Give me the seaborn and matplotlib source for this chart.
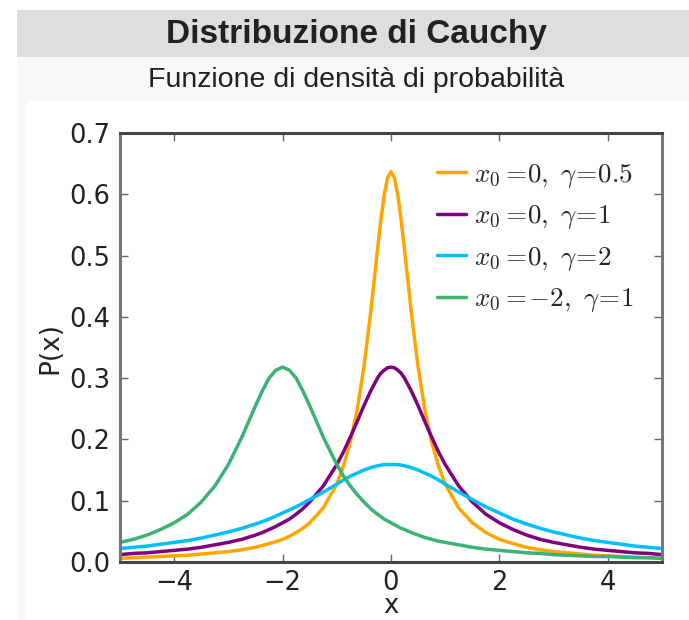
import pandas as pd
import seaborn as sns
from matplotlib import pyplot as plt
from matplotlib.patches import Rectangle

x_values = [
    -5, -4.75, -4.5, -4.25, -4, -3.75, -3.5, -3.25, -3, -2.75, -2.5,
    -2.375, -2.25, -2.125, -2, -1.875, -1.75, -1.625, -1.5, -1.25, -1,
    -0.875, -0.75, -0.625, -0.5, -0.375, -0.25, -0.1875, -0.125, -0.0625, 0,
    0.0625, 0.125, 0.1875, 0.25, 0.375, 0.5, 0.625, 0.75, 0.875, 1,
    1.25, 1.5, 1.75, 2, 2.25, 2.5, 2.75, 3, 3.25, 3.5, 3.75, 4, 4.25, 4.5, 4.75, 5
]
# x0 = 0, gamma = 0.5
p_orange = [
    0.006, 0.007, 0.008, 0.009, 0.010, 0.011, 0.013, 0.015, 0.017, 0.020, 0.024,
    0.027, 0.030, 0.033, 0.037, 0.042, 0.048, 0.055, 0.064, 0.088, 0.127,
    0.157, 0.196, 0.248, 0.318, 0.407, 0.509, 0.558, 0.599, 0.627, 0.637,
    0.627, 0.599, 0.558, 0.509, 0.407, 0.318, 0.248, 0.196, 0.157, 0.127,
    0.088, 0.064, 0.048, 0.037, 0.030, 0.024, 0.020, 0.017, 0.015, 0.013, 0.011, 0.010, 0.009, 0.008, 0.007, 0.006
]
# x0 = 0, gamma = 1
p_purple = [
    0.012, 0.014, 0.015, 0.017, 0.019, 0.021, 0.024, 0.028, 0.032, 0.037, 0.044,
    0.048, 0.053, 0.058, 0.064, 0.070, 0.078, 0.087, 0.098, 0.124, 0.159,
    0.180, 0.204, 0.229, 0.255, 0.279, 0.300, 0.308, 0.313, 0.317, 0.318,
    0.317, 0.313, 0.308, 0.300, 0.279, 0.255, 0.229, 0.204, 0.180, 0.159,
    0.124, 0.098, 0.078, 0.064, 0.053, 0.044, 0.037, 0.032, 0.028, 0.024, 0.021, 0.019, 0.017, 0.015, 0.014, 0.012
]
# x0 = 0, gamma = 2
p_cyan = [
    0.022, 0.024, 0.026, 0.029, 0.032, 0.035, 0.039, 0.044, 0.049, 0.055, 0.062,
    0.066, 0.070, 0.075, 0.080, 0.085, 0.090, 0.096, 0.102, 0.114, 0.127,
    0.134, 0.140, 0.145, 0.150, 0.154, 0.157, 0.158, 0.159, 0.159, 0.159,
    0.159, 0.159, 0.158, 0.157, 0.154, 0.150, 0.145, 0.140, 0.134, 0.127,
    0.114, 0.102, 0.090, 0.080, 0.070, 0.062, 0.055, 0.049, 0.044, 0.039, 0.035, 0.032, 0.029, 0.026, 0.024, 0.022
]
# x0 = -2, gamma = 1
p_green = [
    0.032, 0.037, 0.044, 0.053, 0.064, 0.078, 0.098, 0.124, 0.159, 0.204, 0.255,
    0.279, 0.300, 0.313, 0.318, 0.313, 0.300, 0.279, 0.255, 0.204, 0.159,
    0.140, 0.124, 0.110, 0.098, 0.087, 0.078, 0.074, 0.070, 0.067, 0.064,
    0.061, 0.058, 0.055, 0.053, 0.048, 0.044, 0.040, 0.037, 0.034, 0.032,
    0.028, 0.024, 0.021, 0.019, 0.017, 0.015, 0.014, 0.012, 0.011, 0.010, 0.009, 0.009, 0.008, 0.007, 0.007, 0.006
]

labels = [
    r'$x_0=\!0,\ \gamma\!=\!0.5$',
    r'$x_0=\!0,\ \gamma\!=\!1$',
    r'$x_0=\!0,\ \gamma\!=\!2$',
    r'$x_0=\!\!-\!2,\ \gamma\!=\!1$',
]
colors = ['#ffa500', '#800080', '#00bfff', '#3cb371']

wide = pd.DataFrame(
    dict(zip(labels, [p_orange, p_purple, p_cyan, p_green])),
    index = pd.Index(x_values, name = 'x')
)
df = wide.reset_index().melt(id_vars = 'x', var_name = 'curve', value_name = 'P')

sns.set_theme(style = 'ticks')
plt.rcParams['font.family'] = ['DejaVu Sans']
plt.rcParams['mathtext.fontset'] = 'cm'

fig = plt.figure(figsize = (6.89, 6.20), dpi = 100)
fig.patch.set_facecolor('white')

# infobox header bands
fig.patches.append(Rectangle((17 / 689, 1 - 57 / 620), 1, 47 / 620, transform = fig.transFigure,
                             facecolor = '#dedede', edgecolor = 'none', zorder = 0))
fig.patches.append(Rectangle((17 / 689, 1 - 101 / 620), 1, 44 / 620, transform = fig.transFigure,
                             facecolor = '#f8f8f8', edgecolor = 'none', zorder = 0))
fig.patches.append(Rectangle((17 / 689, 0), 9 / 689, 1 - 101 / 620, transform = fig.transFigure,
                             facecolor = '#f8f8f8', edgecolor = 'none', zorder = 0))
fig.text(356 / 689, 1 - 34 / 620, 'Distribuzione di Cauchy', ha = 'center', va = 'center',
         fontsize = 24, fontweight = 'bold', family = ['Liberation Sans', 'DejaVu Sans'], color = '#202122')
fig.text(356 / 689, 1 - 80 / 620, 'Funzione di densità di probabilità', ha = 'center', va = 'center',
         fontsize = 20.5, family = ['Liberation Sans', 'DejaVu Sans'], color = '#202122')

ax = fig.add_axes([120 / 689, 1 - 562 / 620, (662 - 120) / 689, (562 - 133) / 620])
sns.lineplot(df, x = 'x', y = 'P', hue = 'curve', palette = colors, linewidth = 2.5,
             estimator = None, ax = ax)

ax.set_xlim(-5, 5)
ax.set_ylim(0, 0.7)
ax.set_xticks([-4, -2, 0, 2, 4])
ax.set_yticks([0.0, 0.1, 0.2, 0.3, 0.4, 0.5, 0.6, 0.7])
ax.set_xticklabels(['\u22124', '\u22122', '0', '2', '4'])
ax.tick_params(direction = 'in', top = True, right = True, length = 6, width = 1,
               labelsize = 18.5, color = '#666666', labelcolor = '#222222', pad = 7)
ax.tick_params(axis = 'x', pad = 5.5)
for side, spine in ax.spines.items():
    spine.set_visible(True)
    spine.set_color('#777777' if side in ('left', 'right') else '#444444')
    spine.set_linewidth(2.2)
ax.set_xlabel('x', fontsize = 18.5, labelpad = -2, color = '#222222')
ax.set_ylabel('P(x)', fontsize = 19, labelpad = 4, color = '#222222')

leg = ax.legend(loc = 'upper right', bbox_to_anchor = (0.992, 0.99), frameon = False,
                fontsize = 19.5, handlelength = 1.05, handletextpad = 0.3, labelspacing = 0.5)
for line in leg.get_lines():
    line.set_linewidth(2.5)

fig.savefig('out.png', dpi = 100)
